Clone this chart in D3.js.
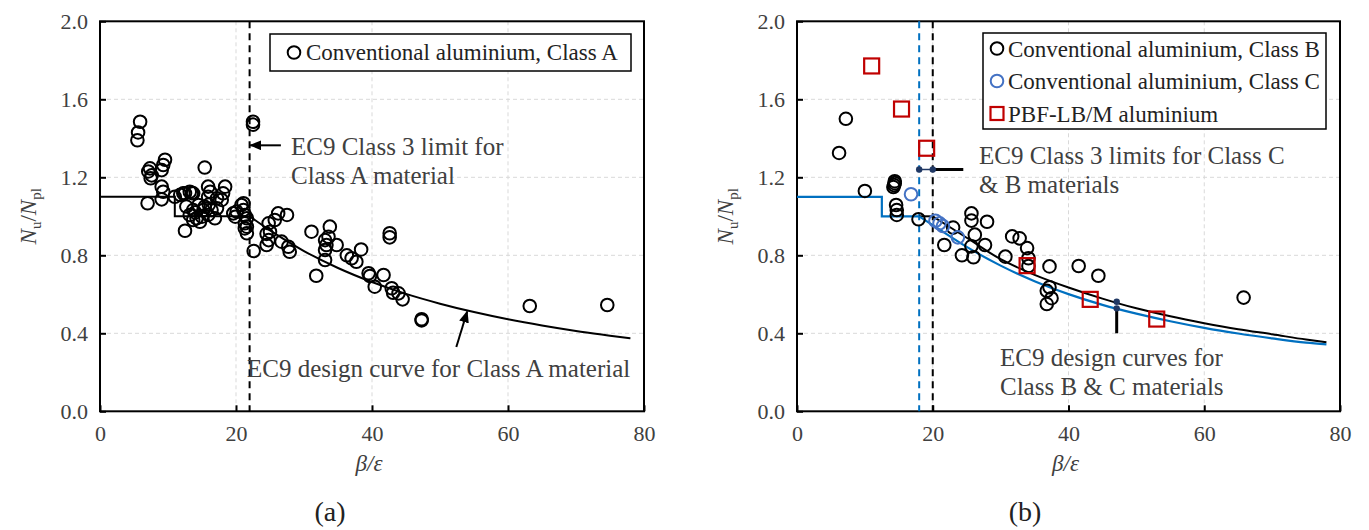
<!DOCTYPE html>
<html lang="en">
<head>
<meta charset="UTF-8">
<title>Nu/Npl vs beta/epsilon</title>
<script src="https://d3js.org/d3.v7.min.js"></script>
<style>
  html, body { margin: 0; padding: 0; background: #fff; }
  svg { display: block; font-family: "Liberation Serif", "Times New Roman", serif; }
  .grid line { stroke: #d9d9d9; stroke-width: 1; stroke-dasharray: 4,3; }
  .axis path { display: none; }
  .axis line { stroke: #000; stroke-width: 2; }
  .axis text { font-family: "Liberation Serif", serif; font-size: 22px; fill: #404040; }
  .note { font-size: 25px; fill: #404040; }
  .legend text { font-size: 23px; fill: #222; }
</style>
</head>
<body>
<svg id="chart" width="1369" height="530"></svg>
<script>
// ---- values ----
const xTicks = [0, 20, 40, 60, 80];
const yTicks = [0, 0.4, 0.8, 1.2, 1.6, 2.0];

// (a) conventional aluminium, Class A   [beta/eps, Nu/Npl]
const classA = [
  [5.9,1.485],[5.6,1.43],[5.5,1.39],
  [7.35,1.246],[7.6,1.21],[7.1,1.23],[7.45,1.195],[7.0,1.067],
  [9.56,1.29],[9.3,1.263],[9.07,1.237],[9.07,1.152],[9.3,1.126],[9.07,1.087],
  [11.0,1.10],[11.8,1.11],[12.25,1.118],[12.5,1.118],[13.2,1.126],[13.5,1.12],[13.7,1.118],
  [12.5,0.926],[15.4,1.25],
  [15.9,1.152],[16.2,1.126],[15.9,1.10],[18.1,1.118],[17.9,1.084],[17.2,1.092],[18.4,1.152],
  [12.7,1.05],[13.7,1.032],[14.5,1.058],[15.2,1.032],[13.2,1.007],[14.2,0.99],[15.0,0.998],
  [15.9,1.007],[16.9,0.99],[14.7,0.972],[13.7,0.981],[15.4,1.049],[16.4,1.032],[17.2,1.041],
  [14.0,1.02],[16.0,1.06],
  [19.6,1.015],[19.9,0.998],[20.1,1.024],[20.8,1.058],[21.1,1.067],[21.1,1.032],[21.3,1.007],
  [21.6,0.99],[21.3,0.964],[21.6,0.947],[21.3,0.938],[21.6,0.913],
  [22.5,1.485],[22.5,1.47],[22.6,0.822],
  [26.2,1.015],[27.5,1.007],[25.7,0.981],[24.8,0.964],[25.0,0.921],[24.5,0.91],[24.8,0.878],
  [24.5,0.853],[26.7,0.87],[27.7,0.844],[27.9,0.818],
  [31.1,0.921],[31.8,0.695],
  [33.8,0.947],[33.6,0.895],[33.1,0.878],[33.3,0.853],[33.1,0.827],[33.1,0.776],
  [34.8,0.853],[36.3,0.80],[37.0,0.785],[37.7,0.767],[38.4,0.83],
  [39.5,0.708],[39.7,0.694],[41.7,0.699],[40.4,0.639],
  [42.6,0.913],[42.6,0.892],
  [42.9,0.631],[43.1,0.608],[43.9,0.605],[44.5,0.574],
  [47.3,0.472],[47.3,0.466],
  [63.2,0.54],[74.6,0.545]
];
// EC9 design curve, Class A material
const curveAStep = [[0,1.1],[11,1.1],[11,1.0],[22,1.0]];
const curveA = [[22,1.0],[25,0.928],[30,0.822],[35,0.735],[40,0.663],[45,0.602],[50,0.552],
  [55,0.509],[60,0.472],[65,0.440],[70,0.412],[75,0.388],[78,0.374]];
const limitA = 22;

// (b)
const classB = [
  [6.2,1.325],[7.2,1.50],[10.0,1.13],
  [14.4,1.18],[14.4,1.17],[14.3,1.16],[14.2,1.15],
  [14.6,1.058],[14.7,1.032],[14.7,1.007],[17.9,0.985],
  [21.7,0.853],[23.0,0.942],
  [25.7,1.015],[25.7,0.978],[28.0,0.972],[26.2,0.906],[27.7,0.853],[25.7,0.846],
  [24.3,0.80],[26.0,0.79],[30.7,0.793],[31.7,0.897],[32.8,0.887],[33.9,0.837],
  [34.1,0.785],[34.1,0.745],[37.2,0.743],[41.5,0.745],[44.4,0.695],
  [37.2,0.636],[36.8,0.618],[37.5,0.58],[36.8,0.55],
  [65.8,0.583]
];
const classC = [[16.8,1.113],[20.4,0.977],[21.0,0.964],[21.5,0.95],[23.7,0.892]];
const pbf = [[11.0,1.771],[15.4,1.55],[19.1,1.349],[33.9,0.747],[43.2,0.574],[53.0,0.473]];

const curveCStep = [[0,1.1],[12.5,1.1],[12.5,1.0],[18,1.0]];
const curveC = [[18,1.0],[20,0.955],[25,0.843],[30,0.747],[35,0.667],[40,0.601],[45,0.546],
  [50,0.501],[55,0.462],[60,0.428],[65,0.399],[70,0.374],[75,0.352],[78,0.343]];
const curveBStep = [[18,1.0],[20,1.0]];
const curveB = [[20,1.0],[25,0.89],[30,0.78],[35,0.70],[40,0.635],[45,0.578],[50,0.528],
  [55,0.487],[60,0.452],[65,0.421],[70,0.395],[75,0.368],[78,0.354]];
const limitC = 18, limitB = 20;
// annotation markers: class 3 limits at Nu/Npl = 1.24, curve values at beta/eps = 47.1
const limitMarks = [[18,1.24],[20,1.24]];
const curveMarks = [[47.1,0.562],[47.1,0.528]];

// ---- drawing ----
const svg = d3.select("#chart");
svg.append("rect").attr("width", 1369).attr("height", 530).attr("fill", "#fff");

const defs = svg.append("defs");
defs.append("marker")
  .attr("id", "arrow")
  .attr("viewBox", "0 0 12 10")
  .attr("refX", 11).attr("refY", 5)
  .attr("markerUnits", "userSpaceOnUse")
  .attr("markerWidth", 12).attr("markerHeight", 10)
  .attr("orient", "auto")
  .append("path").attr("d", "M0,0L12,5L0,10Z").attr("fill", "#000");

const yTop = 21.3, yBot = 411.3;
const BLUE = "#0070C0", BLUE_PT = "#4472C4", RED = "#C00000";

function drawPanel(p) {
  const x = d3.scaleLinear().domain([0, 80]).range([p.left, p.right]);
  const y = d3.scaleLinear().domain([0, 2]).range([yBot, yTop]);
  const g = svg.append("g");

  // grid
  const grid = g.append("g").attr("class", "grid");
  grid.selectAll(".gx").data(xTicks.slice(1, -1)).enter().append("line")
    .attr("x1", d => x(d)).attr("x2", d => x(d)).attr("y1", yTop).attr("y2", yBot);
  grid.selectAll(".gy").data(yTicks.slice(1, -1)).enter().append("line")
    .attr("x1", p.left).attr("x2", p.right).attr("y1", d => y(d)).attr("y2", d => y(d));

  // axes (inside ticks)
  g.append("g").attr("class", "axis")
    .attr("transform", `translate(${p.left},0)`)
    .call(d3.axisLeft(y).tickValues(yTicks).tickFormat(d3.format(".1f")).tickSize(-6).tickPadding(12));
  g.append("g").attr("class", "axis")
    .attr("transform", `translate(0,${yBot})`)
    .call(d3.axisBottom(x).tickValues(xTicks).tickFormat(d3.format("d")).tickSize(-6).tickPadding(14));

  // frame
  g.append("rect")
    .attr("x", p.left).attr("y", yTop)
    .attr("width", p.right - p.left).attr("height", yBot - yTop)
    .attr("fill", "none").attr("stroke", "#000").attr("stroke-width", 2);

  // axis titles
  const cx = (p.left + p.right) / 2;
  g.append("text").attr("x", cx - 3).attr("y", 471)
    .attr("text-anchor", "middle").attr("font-size", 23).attr("font-style", "italic")
    .attr("fill", "#404040").text("β/ε");
  g.append("text").attr("x", p.tagX).attr("y", 521)
    .attr("text-anchor", "middle").attr("font-size", 28).attr("fill", "#222").text(p.tag);

  const yl = g.append("text")
    .attr("transform", `translate(${p.left - 64},${(yTop + yBot) / 2}) rotate(-90)`)
    .attr("text-anchor", "middle").attr("font-size", 23).attr("fill", "#404040");
  yl.append("tspan").attr("font-style", "italic").text("N");
  yl.append("tspan").attr("font-size", 15).attr("dy", 5).text("u");
  yl.append("tspan").attr("dy", -5).text("/");
  yl.append("tspan").attr("font-style", "italic").text("N");
  yl.append("tspan").attr("font-size", 15).attr("dy", 5).text("pl");

  return { g, x, y };
}

const lineLin = (x, y) => d3.line().x(d => x(d[0])).y(d => y(d[1]));
const lineSmooth = (x, y) => d3.line().x(d => x(d[0])).y(d => y(d[1])).curve(d3.curveMonotoneX);

function vDashed(g, x, v, color) {
  g.append("line")
    .attr("x1", x(v)).attr("x2", x(v)).attr("y1", yTop).attr("y2", yBot)
    .attr("stroke", color).attr("stroke-width", 2).attr("stroke-dasharray", "7,5");
}

function circles(g, x, y, data, color) {
  g.append("g").selectAll("circle").data(data).enter().append("circle")
    .attr("cx", d => x(d[0])).attr("cy", d => y(d[1])).attr("r", 6.3)
    .attr("fill", "none").attr("stroke", color).attr("stroke-width", 2);
}

function noteLines(g, px, py, lines, lh) {
  const t = g.append("text").attr("class", "note");
  lines.forEach((s, i) => t.append("tspan").attr("x", px).attr("y", py + i * lh).text(s));
}

// ===== panel (a) =====
{
  const { g, x, y } = drawPanel({ left: 100, right: 644, tag: "(a)", tagX: 330 });
  vDashed(g, x, limitA, "#000");
  g.append("path").datum(curveAStep).attr("d", lineLin(x, y))
    .attr("fill", "none").attr("stroke", "#000").attr("stroke-width", 2);
  g.append("path").datum(curveA).attr("d", lineSmooth(x, y))
    .attr("fill", "none").attr("stroke", "#000").attr("stroke-width", 2);
  circles(g, x, y, classA, "#000");

  // annotations
  g.append("line").attr("x1", x(26.6)).attr("y1", y(1.364)).attr("x2", x(22.1)).attr("y2", y(1.364))
    .attr("stroke", "#000").attr("stroke-width", 2).attr("marker-end", "url(#arrow)");
  noteLines(g, 291, 155, ["EC9 Class 3 limit for", "Class A material"], 29);
  g.append("line").attr("x1", x(52.4)).attr("y1", y(0.33)).attr("x2", x(54)).attr("y2", y(0.512))
    .attr("stroke", "#000").attr("stroke-width", 2).attr("marker-end", "url(#arrow)");
  noteLines(g, 247, 377, ["EC9 design curve for Class A material"], 29);

  // legend
  const lg = g.append("g").attr("class", "legend");
  lg.append("rect").attr("x", 270).attr("y", 34).attr("width", 361).attr("height", 37)
    .attr("fill", "#fff").attr("stroke", "#000").attr("stroke-width", 1.5);
  lg.append("circle").attr("cx", 294).attr("cy", 52.5).attr("r", 6.3)
    .attr("fill", "none").attr("stroke", "#000").attr("stroke-width", 2);
  lg.append("text").attr("x", 306).attr("y", 60).text("Conventional aluminium, Class A");
}

// ===== panel (b) =====
{
  const { g, x, y } = drawPanel({ left: 797, right: 1340, tag: "(b)", tagX: 1025 });
  vDashed(g, x, limitC, BLUE);
  vDashed(g, x, limitB, "#000");

  g.append("path").datum(curveB).attr("d", lineSmooth(x, y))
    .attr("fill", "none").attr("stroke", "#000").attr("stroke-width", 2);
  g.append("path").datum(curveBStep).attr("d", lineLin(x, y))
    .attr("fill", "none").attr("stroke", "#000").attr("stroke-width", 2);
  g.append("path").datum(curveCStep).attr("d", lineLin(x, y))
    .attr("fill", "none").attr("stroke", BLUE).attr("stroke-width", 2.2);
  g.append("path").datum(curveC).attr("d", lineSmooth(x, y))
    .attr("fill", "none").attr("stroke", BLUE).attr("stroke-width", 2.2);

  circles(g, x, y, classB, "#000");
  circles(g, x, y, classC, BLUE_PT);
  g.append("g").selectAll("rect").data(pbf).enter().append("rect")
    .attr("x", d => x(d[0]) - 7.5).attr("y", d => y(d[1]) - 7.5)
    .attr("width", 15).attr("height", 15)
    .attr("fill", "none").attr("stroke", RED).attr("stroke-width", 2.2);

  // annotation markers
  g.append("line").attr("x1", x(limitMarks[0][0])).attr("x2", x(limitMarks[1][0]))
    .attr("y1", y(limitMarks[0][1])).attr("y2", y(limitMarks[1][1]))
    .attr("stroke", "#203864").attr("stroke-width", 1.5);
  g.append("line").attr("x1", x(limitMarks[1][0])).attr("x2", x(24.5))
    .attr("y1", y(1.24)).attr("y2", y(1.24))
    .attr("stroke", "#000").attr("stroke-width", 3);
  g.append("line").attr("x1", x(47.1)).attr("x2", x(47.1))
    .attr("y1", y(curveMarks[1][1])).attr("y2", y(0.40))
    .attr("stroke", "#000").attr("stroke-width", 3);
  g.append("g").selectAll("circle").data(limitMarks.concat(curveMarks)).enter().append("circle")
    .attr("cx", d => x(d[0])).attr("cy", d => y(d[1])).attr("r", 3.2)
    .attr("fill", "#203864");

  noteLines(g, 979, 164, ["EC9 Class 3 limits for Class C", "& B materials"], 29);
  noteLines(g, 1000, 366, ["EC9 design curves for", "Class B & C materials"], 29);

  // legend
  const items = [
    { label: "Conventional aluminium, Class B", color: "#000", shape: "circle" },
    { label: "Conventional aluminium, Class C", color: BLUE_PT, shape: "circle" },
    { label: "PBF-LB/M aluminium", color: RED, shape: "square" }
  ];
  const lg = g.append("g").attr("class", "legend");
  lg.append("rect").attr("x", 983).attr("y", 33).attr("width", 343).attr("height", 96)
    .attr("fill", "#fff").attr("stroke", "#000").attr("stroke-width", 1.5);
  items.forEach((it, i) => {
    const cy = 48.5 + i * 32.5;
    if (it.shape === "circle") {
      lg.append("circle").attr("cx", 997).attr("cy", cy).attr("r", 6.3)
        .attr("fill", "none").attr("stroke", it.color).attr("stroke-width", 2);
    } else {
      lg.append("rect").attr("x", 990.5).attr("y", cy - 6.5).attr("width", 13).attr("height", 13)
        .attr("fill", "none").attr("stroke", it.color).attr("stroke-width", 2.2);
    }
    lg.append("text").attr("x", 1008).attr("y", cy + 8).text(it.label);
  });
}
</script>
</body>
</html>
